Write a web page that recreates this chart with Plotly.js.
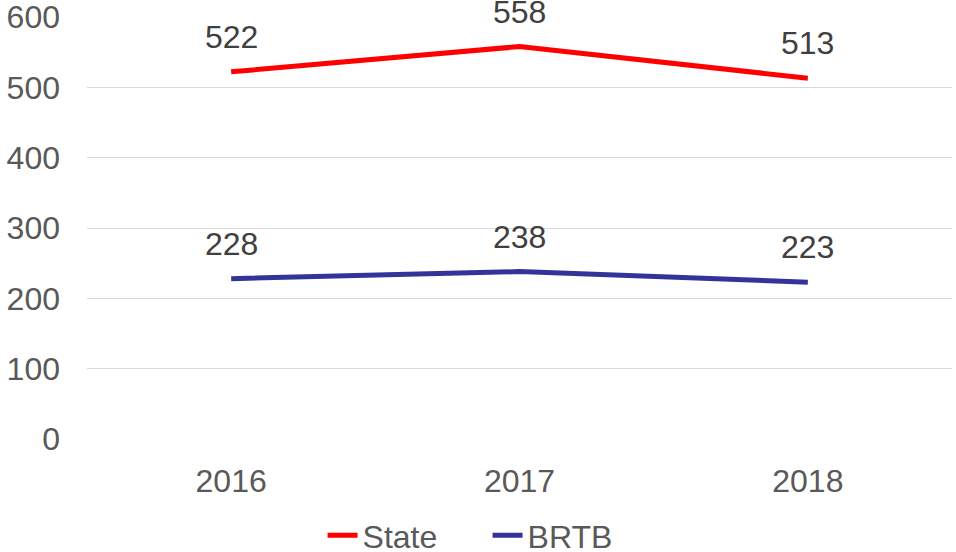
<!DOCTYPE html>
<html>
<head>
<meta charset="utf-8">
<script src="https://cdn.plot.ly/plotly-3.0.1.min.js"></script>
<style>html,body{margin:0;padding:0;background:#fff;}#chart{width:956px;height:552px;}</style>
</head>
<body>
<div id="chart"></div>
<script>
const years = ['2016', '2017', '2018'];
const stateValues = [522, 558, 513];
const brtbValues = [228, 238, 223];
const yTicks = [0, 100, 200, 300, 400, 500, 600];

const font = 'Liberation Sans, Arial, sans-serif';
const FS = 32;
function series(name, vals, color) {
  return {
    type: 'scatter', mode: 'lines', name: name,
    x: years, y: vals,
    line: {color: color, width: 5},
    cliponaxis: false
  };
}
const data = [series('State', stateValues, '#ff0000'), series('BRTB', brtbValues, '#333399')];
const annotations = [];
[stateValues, brtbValues].forEach(vals => {
  vals.forEach((v, i) => annotations.push({
    x: i, y: v, xref: 'x', yref: 'y', text: String(v), showarrow: false,
    xanchor: 'center', yanchor: 'middle', yshift: 35,
    font: {family: font, size: FS, color: '#404040'}
  }));
});
const layout = {
  width: 956, height: 552,
  margin: {l: 87, r: 4, t: 17, b: 113},
  paper_bgcolor: '#ffffff', plot_bgcolor: '#ffffff',
  font: {family: font, size: FS, color: '#595959'},
  showlegend: true,
  legend: {orientation: 'h', x: 0.51, xanchor: 'center', xref: 'container',
           y: 0.03, yanchor: 'middle', yref: 'container', entrywidth: 120,
           font: {family: font, size: FS, color: '#595959'}, traceorder: 'normal'},
  annotations: annotations,
  xaxis: {type: 'category', range: [-0.5, 2.5], showgrid: false, zeroline: false,
          showline: false, ticks: '', ticklabelstandoff: 20, fixedrange: true},
  yaxis: {range: [0, 600], tickvals: yTicks, ticktext: yTicks.map(String),
          showgrid: true, gridcolor: '#d9d9d9', gridwidth: 1, zeroline: false,
          showline: false, ticks: '', ticklabelstandoff: 26, ticklabeloverflow: 'allow',
          fixedrange: true}
};
Plotly.newPlot('chart', data, layout, {displayModeBar: false, staticPlot: true});
</script>
</body>
</html>
